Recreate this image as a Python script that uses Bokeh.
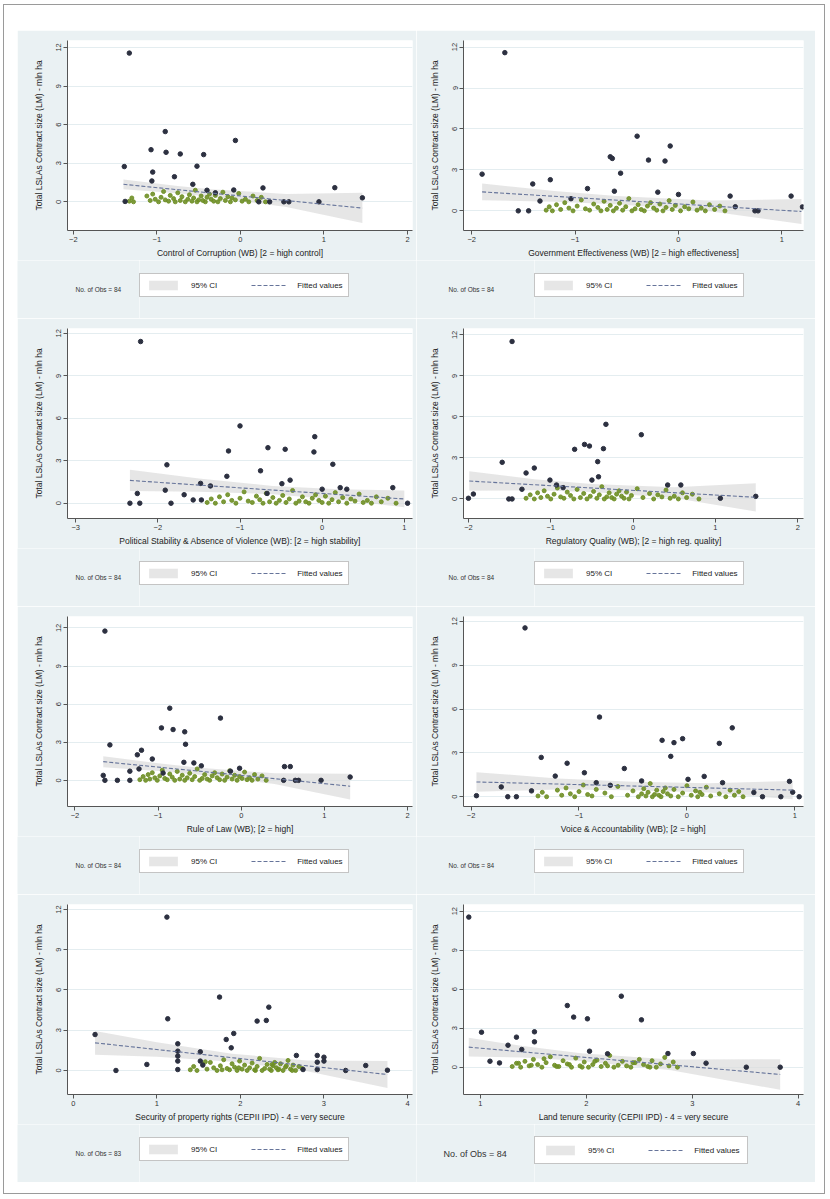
from bokeh.plotting import figure
from bokeh.layouts import column, row
from bokeh.models import (FixedTicker, Legend, LegendItem, Label, Range1d)
from bokeh.embed import file_html
from bokeh.resources import INLINE

# ---------------- data ----------------
Y_LABEL = "Total LSLAs Contract size (LM) - mln ha"
Y_TICKS = [0, 3, 6, 9, 12]
LEGEND_LABELS = ["95% CI", "Fitted values"]

# y values of the low cluster of observations (shared pattern)
cluster_y = [0.05, 0.3, 0.0, 0.45, 0.1, 0.6, 0.2, 0.0, 0.35, 0.8, 0.15, 0.05, 0.5, 0.25, 0.0,
             0.7, 0.1, 0.4, 0.0, 0.2, 0.55, 0.05, 0.3, 0.9, 0.0, 0.15, 0.45, 0.1, 0.0, 0.35,
             0.6, 0.2, 0.05, 0.5, 0.0, 0.25, 0.75, 0.1, 0.4, 0.0, 0.3, 0.15, 0.65, 0.05, 0.2,
             0.0, 0.45, 0.1, 0.35, 0.0]

# Panel 1: Control of Corruption
p1_label = "Control of Corruption (WB) [2 = high control]"
p1_xticks = [-2, -1, 0, 1, 2]
p1_dark_x = [-1.33, -0.90, -0.06, -1.07, -0.89, -0.72, -0.44, -1.39, -0.52, -1.05, -0.79, -1.06, -0.08,
             0.27, 1.13, 1.46, -1.38, 0.52, 0.58, 0.94, -0.57, -0.40, -0.30, 0.22, 0.35]
p1_dark_y = [11.56, 5.46, 4.77, 4.05, 3.85, 3.72, 3.67, 2.74, 2.77, 2.31, 1.95, 1.62, 0.92,
             1.08, 1.10, 0.31, 0.03, 0.0, 0.0, 0.0, 1.36, 0.9, 0.7, 0.0, 0.0]
p1_green_x = [-1.33, -1.30, -1.28, -1.12, -1.08, -1.05, -1.02, -0.98, -0.95, -0.92, -0.90, -0.86, -0.84,
              -0.80, -0.78, -0.75, -0.72, -0.70, -0.66, -0.63, -0.61, -0.58, -0.56, -0.54, -0.52,
              -0.50, -0.47, -0.45, -0.42, -0.40, -0.37, -0.35, -0.32, -0.30, -0.27, -0.24, -0.21,
              -0.18, -0.15, -0.12, -0.10, -0.06, -0.02, 0.02, 0.06, 0.10, 0.15, 0.20, 0.25, 0.30]
p1_fit_x = [-1.40, 1.46]
p1_fit_y = [1.36, -0.49]
p1_ci_x = [-1.40, -0.75, -0.35, 0.55, 1.46]
p1_ci_hi = [1.74, 1.22, 0.98, 0.60, 0.70]
p1_ci_lo = [0.98, 0.66, 0.38, -0.40, -1.64]

# Panel 2: Government Effectiveness
p2_label = "Government Effectiveness (WB) [2 = high effectiveness]"
p2_xticks = [-2, -1, 0, 1]
p2_dark_x = [-1.68, -0.40, -0.08, -0.66, -0.64, -0.29, -0.13, -1.90, -0.56, -1.24, -1.41, -0.88, -0.62,
             -0.20, 0.0, -1.34, -1.04, 0.50, 1.09, 1.20, -1.55, -1.45, 0.74, 0.77, 0.55]
p2_dark_y = [11.59, 5.47, 4.75, 3.96, 3.84, 3.72, 3.65, 2.69, 2.76, 2.28, 1.97, 1.63, 1.44,
             1.37, 1.20, 0.72, 0.89, 1.08, 1.08, 0.29, 0.0, 0.0, 0.0, 0.0, 0.3]
p2_green_x = [-1.28, -1.25, -1.22, -1.18, -1.14, -1.10, -1.06, -1.02, -0.98, -0.94, -0.90, -0.86, -0.82,
              -0.78, -0.75, -0.72, -0.69, -0.66, -0.63, -0.60, -0.57, -0.54, -0.51, -0.48, -0.45,
              -0.42, -0.39, -0.36, -0.33, -0.30, -0.27, -0.24, -0.21, -0.18, -0.15, -0.12, -0.09,
              -0.06, -0.03, 0.02, 0.06, 0.10, 0.14, 0.18, 0.22, 0.26, 0.30, 0.35, 0.40, 0.45]
p2_fit_x = [-1.90, 1.19]
p2_fit_y = [1.39, -0.05]
p2_ci_x = [-1.90, -1.2, -0.6, 0.3, 1.19]
p2_ci_hi = [2.0, 1.45, 1.08, 0.75, 0.86]
p2_ci_lo = [0.78, 0.67, 0.48, -0.03, -0.96]

# Panel 3: Political Stability
p3_label = "Political Stability & Absence of Violence (WB): [2 = high stability]"
p3_xticks = [-3, -2, -1, 0, 1]
p3_dark_x = [-2.21, -1.0, -0.09, -1.14, -0.66, -0.45, -0.10, -1.89, 0.13, -0.75, -1.16, -0.39, -1.48,
             -1.36, -0.49, -2.25, -1.91, -1.68, -2.34, -2.22, -1.84, -1.57, -1.47, 0.0, 0.22, 0.30,
             0.86, 1.04, -0.67]
p3_dark_y = [11.42, 5.46, 4.70, 3.69, 3.92, 3.81, 3.62, 2.71, 2.75, 2.29, 1.90, 1.63, 1.40,
             1.22, 1.38, 0.69, 0.92, 0.60, 0.0, 0.0, 0.0, 0.23, 0.23, 0.99, 1.10, 0.99,
             1.10, 0.0, 0.69]
p3_green_x = [-1.40, -1.35, -1.30, -1.25, -1.20, -1.15, -1.10, -1.05, -1.00, -0.95, -0.90, -0.85, -0.80,
              -0.76, -0.72, -0.68, -0.64, -0.60, -0.56, -0.52, -0.48, -0.44, -0.40, -0.36, -0.32,
              -0.28, -0.24, -0.20, -0.16, -0.12, -0.08, -0.04, 0.0, 0.04, 0.08, 0.12, 0.16, 0.20,
              0.25, 0.30, 0.35, 0.40, 0.45, 0.50, 0.55, 0.60, 0.66, 0.72, 0.80, 0.90]
p3_fit_x = [-2.34, 1.0]
p3_fit_y = [1.61, 0.30]
p3_ci_x = [-2.34, -1.5, -0.6, 0.2, 1.0]
p3_ci_hi = [2.36, 1.75, 1.22, 0.98, 0.89]
p3_ci_lo = [0.86, 0.81, 0.64, 0.24, -0.29]

# Panel 4: Regulatory Quality
p4_label = "Regulatory Quality (WB); [2 = high reg. quality]"
p4_xticks = [-2, -1, 0, 1, 2]
p4_dark_x = [-1.47, -0.33, 0.10, -0.59, -0.53, -0.71, -0.36, -1.59, -0.43, -1.20, -1.30, -0.42, -1.01,
             -0.50, -0.93, -0.85, 0.42, 0.58, -1.35, -1.94, -2.0, -1.51, -1.47, 1.49, 1.06]
p4_dark_y = [11.52, 5.46, 4.70, 3.99, 3.87, 3.63, 3.68, 2.68, 2.73, 2.26, 1.90, 1.62, 1.38,
             1.38, 1.02, 0.83, 1.02, 1.02, 0.71, 0.36, 0.05, 0.0, 0.0, 0.19, 0.05]
p4_green_x = [-1.30, -1.25, -1.20, -1.16, -1.12, -1.08, -1.04, -1.00, -0.96, -0.92, -0.88, -0.84, -0.80,
              -0.76, -0.72, -0.68, -0.64, -0.60, -0.56, -0.52, -0.48, -0.44, -0.41, -0.38, -0.35,
              -0.32, -0.29, -0.26, -0.23, -0.20, -0.17, -0.14, -0.11, -0.08, -0.05, -0.02, 0.05,
              0.12, 0.20, 0.25, 0.30, 0.35, 0.40, 0.45, 0.50, 0.55, 0.60, 0.65, 0.72, 0.80]
p4_fit_x = [-1.99, 1.49]
p4_fit_y = [1.31, 0.12]
p4_ci_x = [-1.99, -1.2, -0.5, 0.5, 1.49]
p4_ci_hi = [2.02, 1.45, 1.10, 0.85, 1.15]
p4_ci_lo = [0.60, 0.63, 0.50, 0.07, -0.92]

# Panel 5: Rule of Law
p5_label = "Rule of Law (WB); [2 = high]"
p5_xticks = [-2, -1, 0, 1, 2]
p5_dark_x = [-1.64, -0.86, -0.25, -0.96, -0.82, -0.68, -1.58, -0.67, -1.20, -1.25, -1.07, -0.69, -0.57,
             -1.34, -1.23, -0.94, -0.48, -0.02, -0.13, -1.66, -1.64, -1.49, -1.34, 0.52, 0.59, 0.51,
             0.65, 0.69, 0.96, 1.31]
p5_dark_y = [11.75, 5.68, 4.90, 4.13, 4.0, 3.82, 2.79, 2.84, 2.37, 2.01, 1.68, 1.42, 1.37,
             0.72, 0.90, 0.57, 1.14, 0.95, 0.72, 0.39, 0.0, 0.0, 0.0, 1.08, 1.08, 0.0,
             0.0, 0.0, 0.0, 0.26]
p5_green_x = [-1.22, -1.18, -1.15, -1.12, -1.10, -1.07, -1.04, -1.01, -0.98, -0.95, -0.92, -0.89, -0.86,
              -0.83, -0.80, -0.77, -0.74, -0.71, -0.68, -0.65, -0.62, -0.59, -0.56, -0.53, -0.50,
              -0.47, -0.44, -0.41, -0.38, -0.35, -0.32, -0.29, -0.26, -0.23, -0.20, -0.17, -0.14,
              -0.11, -0.08, -0.05, -0.02, 0.01, 0.04, 0.07, 0.10, 0.13, 0.16, 0.20, 0.25, 0.30]
p5_fit_x = [-1.66, 1.31]
p5_fit_y = [1.47, -0.46]
p5_ci_x = [-1.66, -1.0, -0.5, 0.4, 1.31]
p5_ci_hi = [1.90, 1.35, 1.00, 0.55, 0.52]
p5_ci_lo = [1.04, 0.73, 0.44, -0.29, -1.50]

# Panel 6: Voice & Accountability
p6_label = "Voice & Accountability (WB); [2 = high]"
p6_xticks = [-2, -1, 0, 1]
p6_dark_x = [-1.50, -0.81, 0.42, -0.23, -0.04, -0.12, 0.30, -1.35, -0.15, -0.58, -1.11, -0.95, -1.22,
             0.16, 0.01, -0.42, 0.33, 0.95, -0.84, -0.71, -1.72, -1.44, -1.95, -1.66, -1.58, 0.62,
             0.70, 0.87, 0.98, 1.04]
p6_dark_y = [11.55, 5.45, 4.71, 3.86, 3.97, 3.70, 3.65, 2.69, 2.76, 1.93, 2.29, 1.64, 1.41,
             1.39, 1.19, 1.08, 0.96, 1.05, 0.96, 0.78, 0.67, 0.40, 0.07, 0.0, 0.0, 0.29,
             0.0, 0.0, 0.31, 0.0]
p6_green_x = [-1.38, -1.34, -1.30, -1.20, -1.16, -1.12, -1.08, -1.04, -1.00, -0.96, -0.92, -0.88, -0.84,
              -0.76, -0.70, -0.64, -0.55, -0.50, -0.45, -0.42, -0.40, -0.38, -0.36, -0.34, -0.32,
              -0.30, -0.28, -0.26, -0.24, -0.22, -0.20, -0.18, -0.15, -0.12, -0.08, -0.04, 0.00,
              0.04, 0.08, 0.10, 0.12, 0.14, 0.18, 0.22, 0.30, 0.36, 0.40, 0.44, 0.48, 0.52]
p6_fit_x = [-1.95, 0.98]
p6_fit_y = [1.01, 0.45]
p6_ci_x = [-1.95, -1.2, -0.5, 0.2, 0.98]
p6_ci_hi = [1.68, 1.25, 1.02, 0.92, 1.08]
p6_ci_lo = [0.34, 0.49, 0.44, 0.28, -0.18]

# Panel 7: Security of property rights
p7_label = "Security of property rights (CEPII IPD) - 4 = very secure"
p7_xticks = [0, 1, 2, 3, 4]
p7_dark_x = [1.12, 1.75, 2.34, 1.13, 2.20, 2.31, 0.26, 1.92, 1.83, 1.89, 1.25, 1.52, 1.25, 1.25, 1.25,
             1.25, 1.52, 1.55, 2.67, 2.92, 3.0, 2.92, 3.0, 2.75, 2.92, 3.26, 3.50, 3.76, 0.88, 0.51]
p7_dark_y = [11.43, 5.47, 4.72, 3.85, 3.68, 3.73, 2.68, 2.76, 2.31, 1.69, 1.99, 1.39, 1.44, 1.07, 0.70,
             0.07, 0.70, 0.40, 1.12, 1.12, 0.99, 0.62, 0.70, 0.07, 0.07, 0.0, 0.37, 0.02, 0.45, 0.0]
p7_green_x = [1.40, 1.44, 1.48, 1.55, 1.60, 1.64, 1.68, 1.72, 1.76, 1.80, 1.84, 1.87, 1.90, 1.93, 1.96,
              1.99, 2.02, 2.05, 2.08, 2.11, 2.14, 2.17, 2.20, 2.23, 2.26, 2.29, 2.32, 2.35, 2.37,
              2.39, 2.41, 2.43, 2.45, 2.48, 2.51, 2.54, 2.57, 2.60, 2.63, 2.66, 2.70, 2.74, 1.58,
              1.78, 1.98, 2.18, 2.38, 2.46, 2.55, 2.62]
p7_fit_x = [0.26, 3.76]
p7_fit_y = [2.06, -0.30]
p7_ci_x = [0.26, 1.0, 1.9, 2.8, 3.76]
p7_ci_hi = [2.95, 2.10, 1.25, 0.75, 0.70]
p7_ci_lo = [1.17, 1.02, 0.65, -0.05, -1.30]

# Panel 8: Land tenure security
p8_label = "Land tenure security (CEPII IPD) - 4 = very secure"
p8_xticks = [1, 2, 3, 4]
p8_dark_x = [0.89, 2.33, 1.82, 1.88, 2.01, 2.52, 1.01, 1.51, 1.34, 1.51, 1.26, 1.39, 2.03, 2.20, 2.77,
             3.01, 1.09, 1.18, 3.13, 3.51, 3.83]
p8_dark_y = [11.54, 5.46, 4.74, 3.85, 3.72, 3.64, 2.69, 2.72, 2.31, 1.95, 1.69, 1.36, 1.23, 1.03, 1.05,
             1.05, 0.46, 0.33, 0.31, 0.0, 0.0]
p8_green_x = [1.30, 1.34, 1.38, 1.42, 1.46, 1.50, 1.54, 1.58, 1.62, 1.66, 1.70, 1.74, 1.78, 1.82, 1.86,
              1.90, 1.94, 1.98, 2.02, 2.06, 2.10, 2.14, 2.18, 2.22, 2.26, 2.30, 2.34, 2.38, 2.42,
              2.46, 2.50, 2.54, 2.58, 2.62, 2.66, 2.70, 2.74, 2.78, 2.82, 2.86, 1.36, 1.48, 1.60,
              1.72, 1.84, 1.96, 2.08, 2.20, 2.44, 2.60]
p8_fit_x = [0.89, 3.83]
p8_fit_y = [1.54, -0.56]
p8_ci_x = [0.89, 1.4, 1.95, 2.8, 3.83]
p8_ci_hi = [2.26, 1.62, 1.08, 0.60, 0.62]
p8_ci_lo = [0.82, 0.74, 0.48, -0.24, -1.74]

n_obs = [84, 84, 84, 84, 84, 84, 83, 84]

# ---------------- styling ----------------
BG = "#eaf1f3"
FONT = "Liberation Sans"
DARK = "#2c3040"
GREEN = "#6f8f26"
CI_COL = "#dcdcdc"
FIT_COL = "#66749a"
CELL_W = 399
PLOT_H = 230
LEG_H = 58


def strip_fig(width, xr=(100, 101)):
    f = figure(width=width, height=LEG_H, x_range=Range1d(*xr), y_range=Range1d(100, 101),
               output_backend="svg", toolbar_location=None,
               x_axis_type=None, y_axis_type=None,
               min_border_left=0, min_border_right=0, min_border_top=0, min_border_bottom=0)
    f.background_fill_color = BG
    f.border_fill_color = BG
    f.outline_line_color = None
    return f


def make_panel(xlabel, xticks, xr, yr, dx, dy, gx, fx, fy, cx, clo, chi, nobs, left_col, big_note=False):
    b_left = 50 if left_col else 47
    b_right = 4 if left_col else 12
    p = figure(width=CELL_W, height=PLOT_H, x_range=Range1d(*xr), y_range=Range1d(*yr),
               output_backend="svg", toolbar_location=None,
               min_border_left=b_left, min_border_right=b_right,
               min_border_top=10, min_border_bottom=28)
    p.background_fill_color = "white"
    p.border_fill_color = BG
    p.outline_line_color = None
    p.xgrid.visible = False
    p.ygrid.ticker = FixedTicker(ticks=Y_TICKS)
    p.ygrid.grid_line_color = "#e4edf0"
    p.ygrid.grid_line_width = 1

    p.xaxis.ticker = FixedTicker(ticks=xticks)
    p.yaxis.ticker = FixedTicker(ticks=Y_TICKS)
    for ax in (p.xaxis[0], p.yaxis[0]):
        ax.axis_line_color = "#555555"
        ax.major_tick_line_color = "#555555"
        ax.major_tick_in = 0
        ax.major_tick_out = 4
        ax.minor_tick_line_color = None
        ax.major_label_text_font = FONT
        ax.major_label_text_font_size = "7.5px"
        ax.major_label_text_color = "#333333"
        ax.axis_label_text_font = FONT
        ax.axis_label_text_font_size = "8.5px"
        ax.axis_label_text_font_style = "normal"
        ax.axis_label_text_color = "#222222"
        ax.major_label_standoff = 2
    p.xaxis.axis_label = xlabel
    p.xaxis.axis_label_standoff = 3
    p.yaxis.axis_label = Y_LABEL
    p.yaxis.axis_label_standoff = 10
    p.yaxis.major_label_orientation = "vertical"

    p.varea(x=cx, y1=clo, y2=chi, fill_color=CI_COL, fill_alpha=0.7)
    p.scatter(gx, cluster_y[:len(gx)], size=4.0, color=GREEN, alpha=0.9)
    p.scatter(dx, dy, size=4.5, color=DARK)
    p.line(fx, fy, line_color=FIT_COL, line_dash="4 2", line_width=1.1)

    # strip below the plot: note on the left, legend box on the right.
    note_w = 122 if left_col else 118
    nf = strip_fig(note_w)
    note_x = 58 if left_col else (27 if big_note else 32)
    nf.add_layout(Label(x=note_x, y=29, x_units="screen", y_units="screen",
                        text=f"No. of Obs = {nobs}", text_font=FONT,
                        text_font_size="9px" if big_note else "6.5px",
                        text_color="#333333", text_baseline="middle"))

    # the legend strip holds the same CI band / fit line renderers, with its ranges
    # set away from the data so that only their legend keys are seen
    lf = strip_fig(CELL_W - note_w)
    band_key = lf.varea(x=cx, y1=clo, y2=chi, fill_color=CI_COL, fill_alpha=0.7)
    fit_key = lf.line(fx, fy, line_color=FIT_COL, line_dash="4 2", line_width=1.1)
    legend = Legend(items=[LegendItem(label=LEGEND_LABELS[0], renderers=[band_key]),
                           LegendItem(label=LEGEND_LABELS[1], renderers=[fit_key])],
                    orientation="horizontal",
                    location=(0, 21 if not big_note else 18),
                    border_line_color="#8a8a8a", background_fill_color="white",
                    background_fill_alpha=1.0,
                    label_text_font=FONT, label_text_font_size="8px",
                    label_text_color="#222222",
                    glyph_width=36, glyph_height=12, spacing=34,
                    padding=5 if not big_note else 7,
                    label_standoff=10, margin=0)
    lf.add_layout(legend)
    return column(p, row(nf, lf))


panels = [
    make_panel(p1_label, p1_xticks, (-2.07, 2.06), (-2.23, 12.54), p1_dark_x, p1_dark_y, p1_green_x,
               p1_fit_x, p1_fit_y, p1_ci_x, p1_ci_lo, p1_ci_hi, n_obs[0], True),
    make_panel(p2_label, p2_xticks, (-2.08, 1.21), (-1.44, 12.48), p2_dark_x, p2_dark_y, p2_green_x,
               p2_fit_x, p2_fit_y, p2_ci_x, p2_ci_lo, p2_ci_hi, n_obs[1], False),
    make_panel(p3_label, p3_xticks, (-3.10, 1.10), (-1.08, 12.34), p3_dark_x, p3_dark_y, p3_green_x,
               p3_fit_x, p3_fit_y, p3_ci_x, p3_ci_lo, p3_ci_hi, n_obs[2], True),
    make_panel(p4_label, p4_xticks, (-2.06, 2.07), (-1.43, 12.47), p4_dark_x, p4_dark_y, p4_green_x,
               p4_fit_x, p4_fit_y, p4_ci_x, p4_ci_lo, p4_ci_hi, n_obs[3], False),
    make_panel(p5_label, p5_xticks, (-2.09, 2.06), (-2.06, 12.9), p5_dark_x, p5_dark_y, p5_green_x,
               p5_fit_x, p5_fit_y, p5_ci_x, p5_ci_lo, p5_ci_hi, n_obs[4], True),
    make_panel(p6_label, p6_xticks, (-2.07, 1.08), (-0.67, 12.33), p6_dark_x, p6_dark_y, p6_green_x,
               p6_fit_x, p6_fit_y, p6_ci_x, p6_ci_lo, p6_ci_hi, n_obs[5], False),
    make_panel(p7_label, p7_xticks, (-0.07, 4.06), (-1.79, 12.37), p7_dark_x, p7_dark_y, p7_green_x,
               p7_fit_x, p7_fit_y, p7_ci_x, p7_ci_lo, p7_ci_hi, n_obs[6], True),
    make_panel(p8_label, p8_xticks, (0.84, 4.05), (-2.10, 12.51), p8_dark_x, p8_dark_y, p8_green_x,
               p8_fit_x, p8_fit_y, p8_ci_x, p8_ci_lo, p8_ci_hi, n_obs[7], False, big_note=True),
]

grid = column(*[row(panels[2 * i], panels[2 * i + 1]) for i in range(4)],
              margin=(25, 0, 0, 13))
page = column(grid, width=822, height=1190, margin=(4, 0, 0, 3),
              styles={"border": "1px solid #9a9a9a", "box-sizing": "border-box"})

open("out.html", "w").write(file_html(page, INLINE))
